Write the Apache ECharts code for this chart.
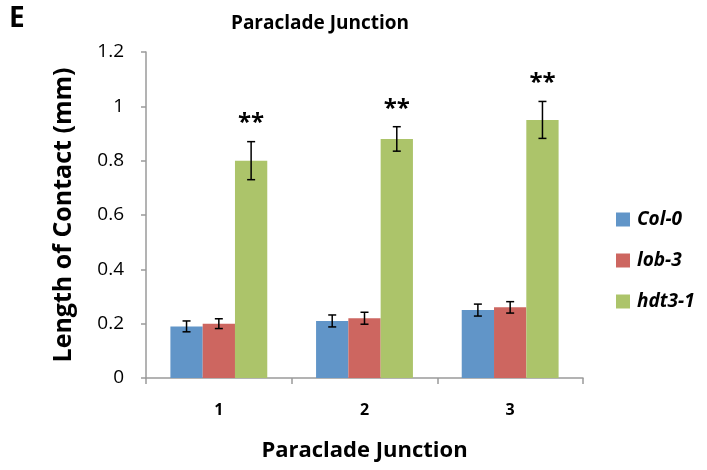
<!DOCTYPE html>
<html>
<head>
<meta charset="utf-8">
<script src="https://cdn.jsdelivr.net/npm/echarts@6/dist/echarts.min.js"></script>
<style>
  html, body { margin: 0; padding: 0; background: #fff; }
  #chart { width: 707px; height: 470px; }
</style>
</head>
<body>
<div id="chart"></div>
<script>
// Length of contact at each paraclade junction, by genotype
const categories = ['1', '2', '3'];
const seriesNames = ['Col-0', 'lob-3', 'hdt3-1'];
const col0 = [0.19, 0.21, 0.25];
const lob3 = [0.20, 0.22, 0.26];
const hdt31 = [0.80, 0.88, 0.95];
const col0Err = [0.02, 0.022, 0.022];
const lob3Err = [0.018, 0.022, 0.021];
const hdt31Err = [0.07, 0.045, 0.068];
const marks = ['', '', '**'];
const yTicks = [0, 0.2, 0.4, 0.6, 0.8, 1, 1.2];

const colors = ['#6195C8', '#CD6660', '#ACC46A'];
const FONT = 'Open Sans';
const GAP = 0.335;

const values = [col0, lob3, hdt31];
const errors = [col0Err, lob3Err, hdt31Err];

function errorSeries(idx) {
  const data = categories.map((c, i) => [i, values[idx][i], errors[idx][i]]);
  return {
    type: 'custom',
    name: seriesNames[idx] + ' err',
    z: 5,
    silent: true,
    data: data,
    renderItem: function (params, api) {
      const xi = api.value(0);
      const v = api.value(1);
      const e = api.value(2);
      const band = api.size([1, 0])[0];
      const bw = band * (1 - GAP) / 3;
      const cx = api.coord([xi, v])[0] + (idx - 1) * bw;
      const yTop = api.coord([xi, v + e])[1];
      const yBot = api.coord([xi, v - e])[1];
      const cap = 4;
      const st = { stroke: '#000', lineWidth: 1.5 };
      const children = [
        { type: 'line', shape: { x1: cx, y1: yTop, x2: cx, y2: yBot }, style: st },
        { type: 'line', shape: { x1: cx - cap, y1: yTop, x2: cx + cap, y2: yTop }, style: st },
        { type: 'line', shape: { x1: cx - cap, y1: yBot, x2: cx + cap, y2: yBot }, style: st }
      ];
      if (marks[idx]) {
        children.push({
          type: 'text',
          style: {
            text: marks[idx], x: cx, y: yTop - 6,
            align: 'center', verticalAlign: 'bottom',
            font: 'bold 24px "' + FONT + '"', fill: '#000'
          }
        });
      }
      return { type: 'group', children: children };
    }
  };
}

const chart = echarts.init(document.getElementById('chart'), null, { renderer: 'canvas' });
chart.setOption({
  animation: false,
  backgroundColor: '#fff',
  textStyle: { fontFamily: FONT },
  graphic: [{
    type: 'text', left: 9, top: 5,
    style: { text: 'E', font: 'bold 28px "' + FONT + '"', fill: '#000' }
  }],
  title: {
    text: 'Paraclade Junction',
    left: 315, top: 9, textAlign: 'center',
    textStyle: { fontFamily: FONT, fontSize: 19, fontWeight: 'bold', color: '#000' }
  },
  legend: {
    data: seriesNames,
    orient: 'vertical',
    left: 611, top: 205,
    itemWidth: 14, itemHeight: 14, itemGap: 22,
    icon: 'rect',
    textStyle: { fontFamily: FONT, fontSize: 19, fontWeight: 'bold', fontStyle: 'italic', color: '#000', padding: [0, 0, 0, 2] }
  },
  grid: { left: 146, right: 124, top: 52, bottom: 92, containLabel: false },
  xAxis: {
    type: 'category',
    data: categories,
    name: 'Paraclade Junction',
    nameLocation: 'middle',
    nameGap: 62,
    nameTextStyle: { fontFamily: FONT, fontSize: 22, fontWeight: 'bold', color: '#000' },
    axisLine: { lineStyle: { color: '#9a9a9a', width: 1.5 } },
    axisTick: { show: true, length: 6, lineStyle: { color: '#9a9a9a', width: 1.5 } },
    axisLabel: { fontFamily: FONT, fontSize: 16, fontWeight: 'bold', color: '#000', margin: 24 }
  },
  yAxis: {
    type: 'value',
    min: 0, max: 1.2, interval: 0.2,
    name: 'Length of Contact (mm)',
    nameLocation: 'middle',
    nameGap: 70,
    nameTextStyle: { fontFamily: FONT, fontSize: 25, fontWeight: 'bold', color: '#000' },
    axisLine: { show: true, lineStyle: { color: '#9a9a9a', width: 1.5 } },
    axisTick: { show: true, inside: false, length: 5, lineStyle: { color: '#9a9a9a', width: 1.5 } },
    splitLine: { show: false },
    axisLabel: {
      fontFamily: FONT, fontSize: 19, color: '#000', margin: 22,
      formatter: function (v) {
        const t = yTicks.find(x => Math.abs(x - v) < 1e-9);
        return t === undefined ? '' : String(t);
      }
    }
  },
  series: [
    { type: 'bar', name: seriesNames[0], data: col0, itemStyle: { color: colors[0] }, barGap: '0%', barCategoryGap: (GAP * 100) + '%' },
    { type: 'bar', name: seriesNames[1], data: lob3, itemStyle: { color: colors[1] }, barGap: '0%', barCategoryGap: (GAP * 100) + '%' },
    { type: 'bar', name: seriesNames[2], data: hdt31, itemStyle: { color: colors[2] }, barGap: '0%', barCategoryGap: (GAP * 100) + '%' },
    errorSeries(0), errorSeries(1), errorSeries(2)
  ]
});
</script>
</body>
</html>
